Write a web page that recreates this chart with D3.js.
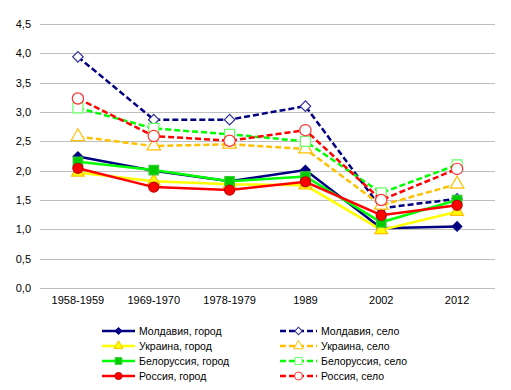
<!DOCTYPE html>
<html><head><meta charset="utf-8">
<script src="https://cdn.jsdelivr.net/npm/d3@7"></script>
<style>body{margin:0;background:#fff}svg{display:block}text{font-family:"Liberation Sans",Arial,sans-serif}</style>
</head><body>
<svg id="c" width="511" height="390"></svg>
<script>
const categories = ["1958-1959","1969-1970","1978-1979","1989","2002","2012"];
const yTicks = [0,0.5,1,1.5,2,2.5,3,3.5,4,4.5];
const moldovaCity    = [2.24,2.00,1.82,2.01,1.02,1.05];
const moldovaVillage = [3.94,2.87,2.87,3.10,1.36,1.52];
const ukraineCity    = [1.97,1.82,1.77,1.75,0.99,1.30];
const ukraineVillage = [2.58,2.42,2.45,2.37,1.41,1.77];
const belarusCity    = [2.15,2.01,1.82,1.90,1.12,1.50];
const belarusVillage = [3.07,2.72,2.62,2.50,1.62,2.10];
const russiaCity     = [2.04,1.72,1.67,1.81,1.24,1.41];
const russiaVillage  = [3.23,2.59,2.51,2.69,1.50,2.03];
const seriesNames = ["Молдавия, город","Молдавия, село","Украина, город","Украина, село",
                     "Белоруссия, город","Белоруссия, село","Россия, город","Россия, село"];

const styles = [
  {c:"#000080", dash:null, sym:"diamond", fill:"#000080", stroke:"#000080", size:45},
  {c:"#000080", dash:"6,3", sym:"diamond", fill:"#fff", stroke:"#333399", size:55},
  {c:"#FFFF00", dash:null, sym:"triangle", fill:"#FFFF00", stroke:"#FFC000", size:70},
  {c:"#FFC000", dash:"6,3", sym:"triangle", fill:"#fff", stroke:"#FFC000", size:80},
  {c:"#00FF00", dash:null, sym:"square", fill:"#00CC00", stroke:"#33CC33", size:90},
  {c:"#00FF00", dash:"6,3", sym:"square", fill:"#fff", stroke:"#66FF66", size:100},
  {c:"#FF0000", dash:null, sym:"circle", fill:"#FF0000", stroke:"#C00000", size:80},
  {c:"#FF0000", dash:"6,3", sym:"circle", fill:"#fff", stroke:"#FF3333", size:100}
];
const data = [moldovaCity,moldovaVillage,ukraineCity,ukraineVillage,belarusCity,belarusVillage,russiaCity,russiaVillage];
const symMap = {diamond:d3.symbolSquare, triangle:d3.symbolTriangle, square:d3.symbolSquare, circle:d3.symbolCircle};
const rot = s => s.sym==="diamond" ? " rotate(45)" : "";

const svg = d3.select("#c");
const x = d3.scaleBand().domain(categories).range([40,495]);
const y = d3.scaleLinear().domain([0,4.5]).range([288,24]);

svg.append("g").selectAll("line").data(yTicks).join("line")
  .attr("x1",40).attr("x2",495)
  .attr("y1",d=>Math.round(y(d))+0.5).attr("y2",d=>Math.round(y(d))+0.5)
  .attr("stroke","#BFBFBF").attr("stroke-width",1);

const yAxis = d3.axisLeft(y).tickValues(yTicks).tickSize(0).tickPadding(0)
  .tickFormat(d=>d3.format(".1f")(d).replace(".",","));
const ga = svg.append("g").attr("transform","translate(31,0)").call(yAxis);
ga.select(".domain").remove();
ga.selectAll("text").attr("font-size",11).attr("fill","#000").attr("font-family","Liberation Sans, Arial, sans-serif");

const xAxis = d3.axisBottom(x).tickSize(0).tickPadding(0);
const gx = svg.append("g").attr("transform","translate(0,296)").call(xAxis);
gx.select(".domain").remove();
gx.selectAll("text").attr("font-size",11).attr("fill","#000").attr("font-family","Liberation Sans, Arial, sans-serif");

const cx = c => x(c) + x.bandwidth()/2;
const line = d3.line().x((d,i)=>cx(categories[i])).y(d=>y(d));

data.forEach((vals,k)=>{
  const s = styles[k];
  const g = svg.append("g");
  g.append("path").attr("d",line(vals)).attr("fill","none").attr("stroke",s.c)
    .attr("stroke-width",2.5).attr("stroke-dasharray",s.dash);
  g.selectAll("path.m").data(vals).join("path").attr("class","m")
    .attr("transform",(d,i)=>`translate(${cx(categories[i])},${y(d)})${rot(s)}`)
    .attr("d",d3.symbol().type(symMap[s.sym]).size(s.size))
    .attr("fill",s.fill).attr("stroke",s.stroke).attr("stroke-width",1.2);
});

const leg = svg.append("g");
seriesNames.forEach((name,k)=>{
  const s = styles[k];
  const col = k%2, row = Math.floor(k/2);
  const x0 = col===0 ? 102 : 280, x1 = col===0 ? 135 : 317;
  const yy = 331 + row*15;
  leg.append("line").attr("x1",x0).attr("x2",x1).attr("y1",yy).attr("y2",yy)
    .attr("stroke",s.c).attr("stroke-width",2.5).attr("stroke-dasharray",s.dash);
  leg.append("path").attr("transform",`translate(${(x0+x1)/2},${yy})${rot(s)}`)
    .attr("d",d3.symbol().type(symMap[s.sym]).size(s.size*0.5))
    .attr("fill",s.fill).attr("stroke",s.stroke).attr("stroke-width",1);
  leg.append("text").attr("x",x1+4).attr("y",yy).attr("dy","0.35em")
    .attr("font-size",10.5).attr("fill","#000").text(name);
});
</script>
</body></html>
